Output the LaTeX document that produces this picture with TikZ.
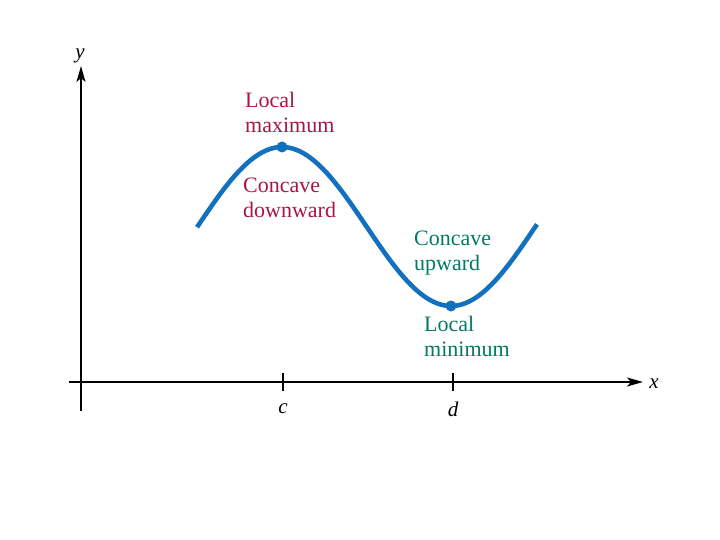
\documentclass[tikz,border=0pt]{standalone}
\usepackage{fontspec}
\setmainfont{Liberation Serif}
\usetikzlibrary{arrows.meta}
\definecolor{curveblue}{RGB}{18,112,190}
\definecolor{maxred}{RGB}{168,22,72}
\definecolor{mingreen}{RGB}{0,122,100}
\tikzset{
  axis/.style={line width=1.8pt, -{Stealth[length=16pt,width=9pt,inset=4pt]}},
  tick/.style={line width=1.8pt},
  note/.style={align=left, anchor=base west, inner sep=0pt,
    font=\fontsize{22}{25}\selectfont},
  axlabel/.style={font=\fontsize{21}{24}\selectfont\itshape}
}
\begin{document}
\begin{tikzpicture}[x=1pt,y=-1pt]
  \useasboundingbox (0,0) rectangle (720,540);
  % Axes
  \coordinate (xl) at (69,382);
  \coordinate (xr) at (643,382);
  \coordinate (yb) at (81,411);
  \coordinate (yt) at (81,66);
  \draw[axis] (xl) -- (xr);
  \draw[axis] (yb) -- (yt);
  \node[axlabel] (ylab) at (80,56) {y};
  \node[axlabel] (xlab) at (654,384) {x};
  % Ticks at c and d
  \draw[tick] (283,373) -- (283,391);
  \draw[tick] (453,373) -- (453,391);
  \node[axlabel] (clab) at (283,409) {c};
  \node[axlabel] (dlab) at (453,409) {d};
  % The curve
  \draw[curveblue, line width=4.6pt]
    plot[domain=197:537, samples=90] (\x, {226.5-79.5*cos((\x-282)/169*180)});
  % Extreme points
  \fill[curveblue] (282,147) circle (5.5);
  \fill[curveblue] (451,306) circle (5.5);
  % Labels
  \node[note, text=maxred] (lmax) at (245,133) {Local\\maximum};
  \node[note, text=maxred] (cdown) at (243,218) {Concave\\downward};
  \node[note, text=mingreen] (cup) at (414,270) {Concave\\upward};
  \node[note, text=mingreen] (lmin) at (424,356) {Local\\minimum};
\end{tikzpicture}
\end{document}
